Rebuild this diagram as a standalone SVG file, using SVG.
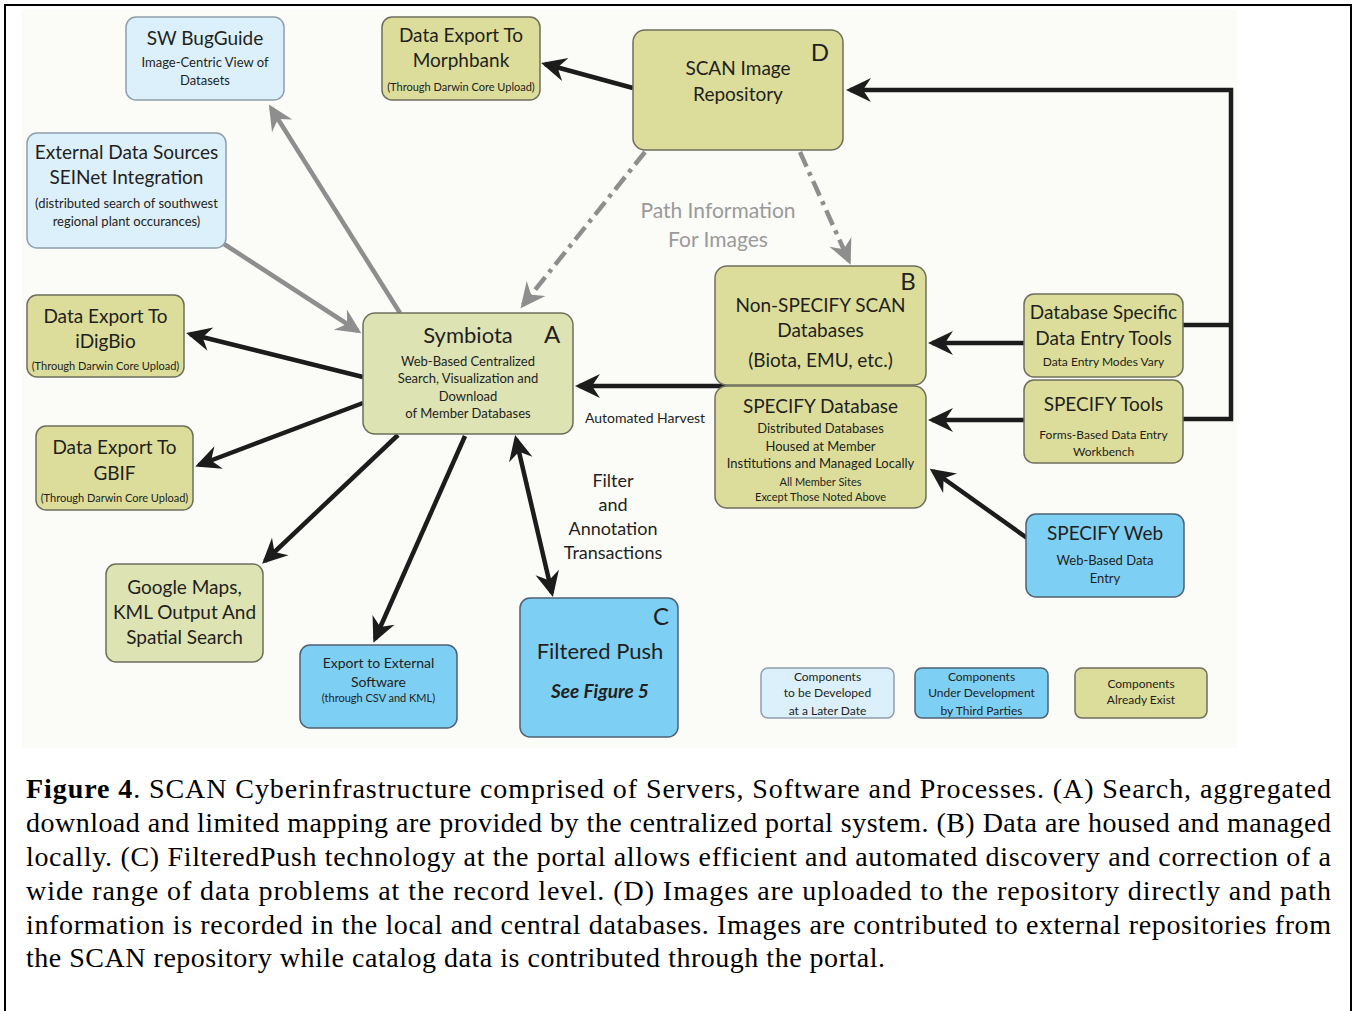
<svg xmlns="http://www.w3.org/2000/svg" width="1354" height="1011" viewBox="0 0 1354 1011">
<defs>
<style>
.t{font-family:Lato,"Open Sans","Liberation Sans",sans-serif;fill:#231f20;text-anchor:middle}
.h{font-size:19px}
.hl{font-size:22px}
.s{font-size:13px}
.xs{font-size:11px}
.k{fill:#dcdd9b;stroke:#6e6e5c;stroke-width:1.5}
.kp{fill:#dee3b4;stroke:#6e6e5c;stroke-width:1.5}
.lb{fill:#dcf0fb;stroke:#8f9fab;stroke-width:1.5}
.b{fill:#7dcff4;stroke:#4d6272;stroke-width:1.5}
.ln{fill:none;stroke:#1c1c1c;stroke-width:4.5}
.gl{fill:none;stroke:#8e8e8e;stroke-width:4.5}
.gd{fill:none;stroke:#8e8e8e;stroke-width:4.5;stroke-dasharray:16 6 4 6}
.cap{font-family:"Liberation Serif","Times New Roman",serif;font-size:28px;fill:#000}
</style>
<marker id="ab" viewBox="-25 -13 30 26" refX="0" refY="0" markerWidth="30" markerHeight="26" markerUnits="userSpaceOnUse" orient="auto-start-reverse">
<path d="M4,0 L-21,-12 L-13,0 L-21,12 Z" fill="#1c1c1c"/>
</marker>
<marker id="ag" viewBox="-25 -13 30 26" refX="0" refY="0" markerWidth="30" markerHeight="26" markerUnits="userSpaceOnUse" orient="auto-start-reverse">
<path d="M4,0 L-21,-12 L-13,0 L-21,12 Z" fill="#8e8e8e"/>
</marker>
</defs>
<rect x="0" y="0" width="1354" height="1011" fill="#ffffff"/>
<rect x="22" y="10" width="1215" height="738" fill="#fbfbf8"/>
<path d="M5,1011 V5 H1351 V1011" fill="none" stroke="#000" stroke-width="2"/>

<g id="connectors">
<path class="ln" d="M633,88 L545,64" marker-end="url(#ab)"/>
<path class="ln" d="M1183,325 H1231"/>
<path class="ln" d="M1183,419 H1231 V90 H850" marker-end="url(#ab)"/>
<path class="ln" d="M1024,343 H932" marker-end="url(#ab)"/>
<path class="ln" d="M1024,420 H932" marker-end="url(#ab)"/>
<path class="ln" d="M1027,538 L933,471" marker-end="url(#ab)"/>
<path class="ln" d="M725,386 H579" marker-end="url(#ab)"/>
<path class="ln" d="M363,377 L190,334" marker-end="url(#ab)"/>
<path class="ln" d="M363,403 L199,465" marker-end="url(#ab)"/>
<path class="ln" d="M398,435 L265,561" marker-end="url(#ab)"/>
<path class="ln" d="M465,436 L375,639" marker-end="url(#ab)"/>
<path class="ln" d="M516,439 L552,593" marker-start="url(#ab)" marker-end="url(#ab)"/>
<path class="gl" d="M400,313 L271,108" marker-end="url(#ag)"/>
<path class="gl" d="M224,244 L358,331" marker-end="url(#ag)"/>
<path class="gd" d="M645,152 L523,305" marker-end="url(#ag)"/>
<path class="gd" d="M800,152 L849,261" marker-end="url(#ag)"/>
</g>

<g id="bugguide">
<rect class="lb" x="126" y="17" width="158" height="83" rx="10"/>
<text class="t h" x="205" y="45">SW BugGuide</text>
<text class="t s" x="205" y="66.5">Image-Centric View of</text>
<text class="t s" x="205" y="84.5">Datasets</text>
</g>
<g id="morphbank">
<rect class="k" x="382" y="17" width="158" height="83" rx="10"/>
<text class="t h" x="461" y="42">Data Export To</text>
<text class="t h" x="461" y="67">Morphbank</text>
<text class="t xs" x="461" y="91">(Through Darwin Core Upload)</text>
</g>
<g id="scan-image">
<rect class="k" x="633" y="30" width="210" height="120" rx="12"/>
<text class="t h" x="738" y="75">SCAN Image</text>
<text class="t h" x="738" y="101">Repository</text>
<text class="t" style="font-size:24px" x="820" y="61">D</text>
</g>
<g id="external">
<rect class="lb" x="27" y="133" width="199" height="115" rx="10"/>
<text class="t h" x="126.5" y="159">External Data Sources</text>
<text class="t h" x="126.5" y="184">SEINet Integration</text>
<text class="t s" x="126.5" y="207.5">(distributed search of southwest</text>
<text class="t s" x="126.5" y="225.5">regional plant occurances)</text>
</g>
<g id="idigbio">
<rect class="k" x="27" y="295" width="157" height="82" rx="10"/>
<text class="t h" x="105.5" y="323">Data Export To</text>
<text class="t h" x="105.5" y="348">iDigBio</text>
<text class="t xs" x="105.5" y="370">(Through Darwin Core Upload)</text>
</g>
<g id="gbif">
<rect class="k" x="36" y="426" width="157" height="84" rx="10"/>
<text class="t h" x="114.5" y="454">Data Export To</text>
<text class="t h" x="114.5" y="480">GBIF</text>
<text class="t xs" x="114.5" y="502">(Through Darwin Core Upload)</text>
</g>
<g id="symbiota">
<rect class="kp" x="363" y="313" width="210" height="121" rx="12"/>
<text class="t hl" x="468" y="343">Symbiota</text>
<text class="t" style="font-size:24px" x="552" y="343">A</text>
<text class="t s" x="468" y="365.5">Web-Based Centralized</text>
<text class="t s" x="468" y="382.5">Search, Visualization and</text>
<text class="t s" x="468" y="400.5">Download</text>
<text class="t s" x="468" y="417.5">of Member Databases</text>
</g>
<g id="non-specify">
<rect class="k" x="715" y="266" width="211" height="119" rx="12"/>
<text class="t" style="font-size:24px" x="908" y="290">B</text>
<text class="t h" x="820.5" y="312">Non-SPECIFY SCAN</text>
<text class="t h" x="820.5" y="337">Databases</text>
<text class="t h" x="820.5" y="367">(Biota, EMU, etc.)</text>
</g>
<g id="specify-db">
<rect class="k" x="715" y="386" width="211" height="122" rx="12"/>
<text class="t h" x="820.5" y="413">SPECIFY Database</text>
<text class="t s" x="820.5" y="432.5">Distributed Databases</text>
<text class="t s" x="820.5" y="450.5">Housed at Member</text>
<text class="t s" x="820.5" y="467.5">Institutions and Managed Locally</text>
<text class="t xs" x="820.5" y="486">All Member Sites</text>
<text class="t xs" x="820.5" y="501">Except Those Noted Above</text>
</g>
<g id="db-specific">
<rect class="k" x="1024" y="294" width="159" height="83" rx="10"/>
<text class="t h" x="1103.5" y="319">Database Specific</text>
<text class="t h" x="1103.5" y="345">Data Entry Tools</text>
<text class="t" style="font-size:12px" x="1103.5" y="366">Data Entry Modes Vary</text>
</g>
<g id="specify-tools">
<rect class="k" x="1024" y="380" width="159" height="83" rx="10"/>
<text class="t h" x="1103.5" y="411">SPECIFY Tools</text>
<text class="t" style="font-size:12px" x="1103.5" y="439">Forms-Based Data Entry</text>
<text class="t" style="font-size:12px" x="1103.5" y="456">Workbench</text>
</g>
<g id="specify-web">
<rect class="b" x="1026" y="514" width="158" height="83" rx="10"/>
<text class="t h" x="1105" y="540">SPECIFY Web</text>
<text class="t s" x="1105" y="564.5">Web-Based Data</text>
<text class="t s" x="1105" y="582.5">Entry</text>
</g>
<g id="google-maps">
<rect class="kp" x="106" y="564" width="157" height="98" rx="10"/>
<text class="t h" x="184.5" y="594">Google Maps,</text>
<text class="t h" x="184.5" y="619">KML Output And</text>
<text class="t h" x="184.5" y="644">Spatial Search</text>
</g>
<g id="export-external">
<rect class="b" x="300" y="645" width="157" height="83" rx="10"/>
<text class="t" style="font-size:14px" x="378.5" y="668">Export to External</text>
<text class="t" style="font-size:14px" x="378.5" y="687">Software</text>
<text class="t xs" x="378.5" y="702">(through CSV and KML)</text>
</g>
<g id="filtered-push">
<rect class="b" x="520" y="598" width="158" height="139" rx="10"/>
<text class="t" style="font-size:24px" x="661" y="625">C</text>
<text class="t hl" x="600" y="659">Filtered Push</text>
<text class="t h" style="font-weight:bold;font-style:italic" x="600" y="698">See Figure 5</text>
</g>

<g id="labels">
<text class="t" style="font-size:21px;fill:#9a9a9a" x="718" y="218">Path Information</text>
<text class="t" style="font-size:21px;fill:#9a9a9a" x="718" y="247">For Images</text>
<text class="t" style="font-size:14px" x="645" y="423">Automated Harvest</text>
<text class="t" style="font-size:18px" x="613" y="487">Filter</text>
<text class="t" style="font-size:18px" x="613" y="511">and</text>
<text class="t" style="font-size:18px" x="613" y="535">Annotation</text>
<text class="t" style="font-size:18px" x="613" y="559">Transactions</text>
</g>

<g id="legend">
<g id="legend-later">
<rect class="lb" x="761" y="668" width="133" height="50" rx="7"/>
<text class="t" style="font-size:12px" x="827.5" y="681">Components</text>
<text class="t" style="font-size:12px" x="827.5" y="697">to be Developed</text>
<text class="t" style="font-size:12px" x="827.5" y="715">at a Later Date</text>
</g>
<g id="legend-third">
<rect class="b" x="915" y="668" width="133" height="50" rx="7"/>
<text class="t" style="font-size:12px" x="981.5" y="681">Components</text>
<text class="t" style="font-size:12px" x="981.5" y="697">Under Development</text>
<text class="t" style="font-size:12px" x="981.5" y="715">by Third Parties</text>
</g>
<g id="legend-exist">
<rect class="k" x="1075" y="668" width="132" height="50" rx="7"/>
<text class="t" style="font-size:12px" x="1141" y="688">Components</text>
<text class="t" style="font-size:12px" x="1141" y="704">Already Exist</text>
</g>
</g>

<g id="caption">
<text class="cap" x="26" y="798" textLength="1305" lengthAdjust="spacing"><tspan font-weight="bold">Figure 4</tspan>. SCAN Cyberinfrastructure comprised of Servers, Software and Processes. (A) Search, aggregated</text>
<text class="cap" x="26" y="832" textLength="1305" lengthAdjust="spacing">download and limited mapping are provided by the centralized portal system. (B) Data are housed and managed</text>
<text class="cap" x="26" y="866" textLength="1305" lengthAdjust="spacing">locally. (C) FilteredPush technology at the portal allows efficient and automated discovery and correction of a</text>
<text class="cap" x="26" y="900" textLength="1305" lengthAdjust="spacing">wide range of data problems at the record level. (D) Images are uploaded to the repository directly and path</text>
<text class="cap" x="26" y="934" textLength="1305" lengthAdjust="spacing">information is recorded in the local and central databases. Images are contributed to external repositories from</text>
<text class="cap" x="26" y="967" textLength="859" lengthAdjust="spacing">the SCAN repository while catalog data is contributed through the portal.</text>
</g>
</svg>
